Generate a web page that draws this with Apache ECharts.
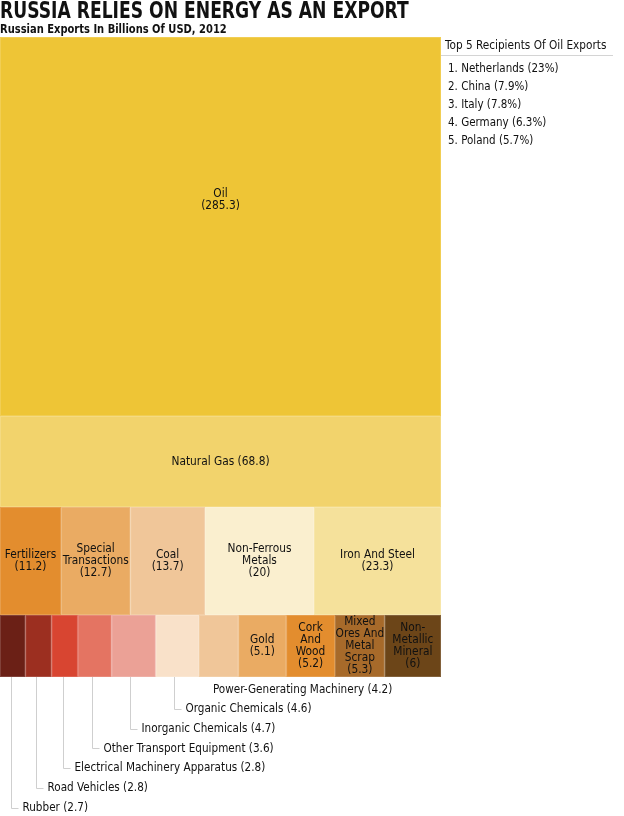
<!DOCTYPE html>
<html lang="en">
<head>
    <meta charset="UTF-8">
    <title>Russia exports treemap</title>
    <script src="https://cdn.jsdelivr.net/npm/echarts@6/dist/echarts.min.js"></script>
    <style>
        html, body { margin: 0; padding: 0; background: #fff; }
    </style>
</head>
<body>
    <div id="main" style="width:624px;height:816px;"></div>
    <script>
    // data, billions of USD (2012), one array per treemap row
    var row1Names = ['Oil'];
    var row1Values = [285.3];
    var row2Names = ['Natural Gas'];
    var row2Values = [68.8];
    var row3Names = ['Fertilizers', 'Special Transactions', 'Coal', 'Non-Ferrous Metals', 'Iron And Steel'];
    var row3Values = [11.2, 12.7, 13.7, 20, 23.3];
    var row4Names = ['Rubber', 'Road Vehicles', 'Electrical Machinery Apparatus', 'Other Transport Equipment',
        'Inorganic Chemicals', 'Organic Chemicals', 'Power-Generating Machinery',
        'Gold', 'Cork And Wood', 'Mixed Ores And Metal Scrap', 'Non-Metallic Mineral'];
    var row4Values = [2.7, 2.8, 2.8, 3.6, 4.7, 4.6, 4.2, 5.1, 5.2, 5.3, 6];
    // how many of row 4 get a callout below the chart instead of an inside label
    var calloutCount = 7;

    var recipients = ['Netherlands', 'China', 'Italy', 'Germany', 'Poland'];
    var recipientShare = ['23%', '7.9%', '7.8%', '6.3%', '5.7%'];

    // colours
    var row1Colors = ['#EEC536'];
    var row2Colors = ['#F2D36C'];
    var row3Colors = ['#E38D2E', '#EAAB63', '#F0C699', '#FAEFCF', '#F5E19B'];
    var row4Colors = ['#6B2016', '#9C2F20', '#D84531', '#E47462', '#EBA196', '#F9E1C9', '#F0C699',
        '#EAAB63', '#E38D2E', '#A76A2A', '#6C4518'];

    // wrapped inside-labels (line breaks only)
    var row3Wrapped = ['Fertilizers', 'Special\nTransactions', 'Coal', 'Non-Ferrous\nMetals', 'Iron And Steel'];
    var row4Wrapped = ['', '', '', '', '', '', '', 'Gold', 'Cork\nAnd\nWood', 'Mixed\nOres And\nMetal\nScrap', 'Non-\nMetallic\nMineral'];

    var FONT = "'Liberation Sans Narrow', 'DejaVu Sans Condensed', 'Arial Narrow', 'Roboto', sans-serif";

    var areaLeft = 0, areaTop = 37, areaWidth = 441, areaHeight = 640;

    function sum(a) { return a.reduce(function (s, v) { return s + v; }, 0); }
    var rows = [
        { names: row1Names, values: row1Values, colors: row1Colors, wrapped: row1Names },
        { names: row2Names, values: row2Values, colors: row2Colors, wrapped: [row2Names[0] + ' (' + row2Values[0] + ')'] },
        { names: row3Names, values: row3Values, colors: row3Colors, wrapped: row3Wrapped },
        { names: row4Names, values: row4Values, colors: row4Colors, wrapped: row4Wrapped }
    ];
    var grand = sum(rows.map(function (r) { return sum(r.values); }));

    var myChart = echarts.init(document.getElementById('main'), null, { renderer: 'canvas' });

    var series = [];
    var cum = 0;
    rows.forEach(function (r, ri) {
        // whole-pixel row boundaries so the stacked treemaps abut
        var top = Math.round(areaTop + cum / grand * areaHeight);
        cum += sum(r.values);
        var h = Math.round(areaTop + cum / grand * areaHeight) - top;
        series.push({
            type: 'treemap',
            left: areaLeft, top: top, width: areaWidth, height: h,
            sort: false,
            squareRatio: 0.001,
            roam: false,
            nodeClick: false,
            breadcrumb: { show: false },
            animation: false,
            levels: [
                { itemStyle: { borderWidth: 0, gapWidth: 0 } },
                { itemStyle: { borderWidth: 1, gapWidth: 0 } }
            ],
            label: {
                show: true,
                color: '#111',
                fontFamily: FONT,
                fontSize: 11.8,
                lineHeight: 12,
                padding: 0,
                overflow: 'none',
                align: 'center',
                verticalAlign: 'middle',
                position: ri === 0 ? ['50%', '43%'] : 'inside',
                formatter: function (p) {
                    var i = p.dataIndex - 1;
                    var w = r.wrapped[i] !== undefined ? r.wrapped[i] : p.name;
                    if (!w) return '';
                    return ri === 1 ? w : w + '\n(' + p.value + ')';
                }
            },
            data: r.names.map(function (n, i) {
                return {
                    name: n,
                    value: r.values[i],
                    // thin edge a touch lighter than the cell itself
                    itemStyle: { color: r.colors[i], borderColor: echarts.color.lerp(0.15, [r.colors[i], '#ffffff']) },
                    label: { show: !(ri === 3 && i < calloutCount) }
                };
            })
        });
    });

    myChart.setOption({
        backgroundColor: '#fff',
        tooltip: { show: false },
        series: series
    });

    // read cell rectangles from the treemap layout of one row
    function cellRects(seriesIndex) {
        var s = myChart.getModel().getSeriesByIndex(seriesIndex);
        var info = s.layoutInfo || { x: areaLeft, y: 0 };
        var root = s.getData().tree.root;
        var rl = root.getLayout() || { x: 0, y: 0 };
        return root.children.map(function (n) {
            var l = n.getLayout();
            return { x: info.x + rl.x + l.x, y: info.y + rl.y + l.y, width: l.width, height: l.height };
        });
    }

    function txt(s, x, y, font, sx) {
        var st = { text: s, font: font, fill: '#111', textVerticalAlign: 'middle' };
        return { type: 'text', x: x, y: y, scaleX: sx, style: st, silent: true, z: 10 };
    }

    var graphics = [];
    // headline and subtitle (condensed look via scaleX)
    graphics.push(txt('RUSSIA RELIES ON ENERGY AS AN EXPORT', 0, 12, 'bold 23px ' + FONT, 0.83));
    graphics.push(txt('Russian Exports In Billions Of USD, 2012', 0, 29.5, 'bold 13px ' + FONT, 0.85));

    // legend panel on the right
    graphics.push(txt('Top 5 Recipients Of Oil Exports', 445, 46, '13px ' + FONT, 0.9));
    graphics.push({
        type: 'line', shape: { x1: 441, y1: 55.5, x2: 613, y2: 55.5 },
        style: { stroke: '#d4d4d4', lineWidth: 1 }, silent: true
    });
    recipients.forEach(function (c, i) {
        graphics.push(txt((i + 1) + '. ' + c + ' (' + recipientShare[i] + ')', 448, 69 + i * 18, '12.5px ' + FONT, 0.92));
    });

    // callouts for the small cells
    var rects = cellRects(3);
    var bottom = rects[0].y + rects[0].height;
    for (var k = 0; k < calloutCount; k++) {
        var rc = rects[k];
        var cx = Math.round(rc.x + rc.width * 0.42) + 0.5;
        var ly = 807.5 - k * 19.7;
        var tx;
        if (k === calloutCount - 1) {
            tx = rc.x + 14;
        } else {
            tx = cx + 11;
            graphics.push({
                type: 'polyline',
                shape: { points: [[cx, bottom], [cx, Math.round(ly) + 0.5], [tx - 4, Math.round(ly) + 0.5]] },
                style: { stroke: '#cfcfcf', lineWidth: 1, fill: null }, silent: true
            });
        }
        graphics.push(txt(row4Names[k] + ' (' + row4Values[k] + ')', tx, ly, '12.5px ' + FONT, 0.93));
    }
    myChart.setOption({ graphic: graphics });
    </script>
</body>
</html>
